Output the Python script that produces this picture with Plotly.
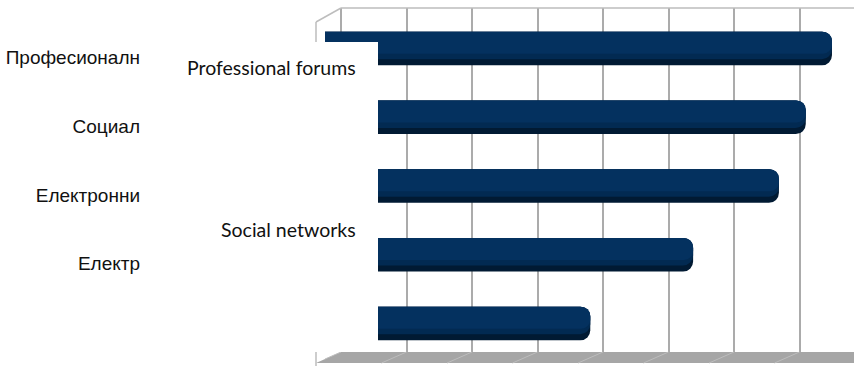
import plotly.graph_objects as go

# ---- data ----
categories = ["Професионални форуми", "Социални мрежи", "Електронни издания",
              "Електронна поща", "Блогове"]
tick_labels = ["Професионалн", "Социал", "Електронни", "Електр", ""]
values = [77.4, 73.4, 69.3, 56.2, 40.5]
grid_ticks = [0, 10, 20, 30, 40, 50, 60, 70]
overlay_labels = ["Professional forums", "Social networks"]

W, H = 854, 366


def px(x):
    return x / W


def py(y):
    return 1 - y / H


UNIT = 6.55          # pixels per value unit
X0_BAR = 325         # pixel of value 0 on the bar plane
X_END = 852
WALL_SHIFT = 16 / UNIT

fig = go.Figure()

bar_layers = [
    # (offset, width, color, corner radius)
    (-0.245, 0.49, "#011a33", 10),
    (-0.245, 0.40, "#022a52", 10),
    (-0.245, 0.32, "#04315f", 9),
]
for off, wd, col, cr in bar_layers:
    fig.add_trace(go.Bar(
        x=values, y=categories, orientation="h",
        offset=off, width=wd,
        marker=dict(color=col, line=dict(width=0), cornerradius=cr),
        xaxis="x", yaxis="y", showlegend=False, hoverinfo="skip"))

# invisible trace to carry the back-wall grid axis
fig.add_trace(go.Scatter(x=[None], y=[None], xaxis="x2", yaxis="y",
                         showlegend=False, hoverinfo="skip"))

shapes = []
# floor
fl = [(316, 363), (341, 352), (880, 352), (855, 363)]
path = "M " + " L ".join(f"{px(a):.5f},{py(b):.5f}" for a, b in fl) + " Z"
shapes.append(dict(type="path", path=path, xref="paper", yref="paper",
                   fillcolor="#a6a6a6", line=dict(width=0), layer="below"))
# floor grid diagonals
for t in grid_ticks:
    shapes.append(dict(type="line", xref="x2", xsizemode="pixel", xanchor=t,
                       x0=0, x1=-25, yref="paper", y0=py(352), y1=py(363),
                       line=dict(color="#bdbdbd", width=1)))
# back wall top line and left wall edges
shapes.append(dict(type="line", xref="paper", yref="paper",
                   x0=px(341), x1=1.02, y0=py(8), y1=py(8),
                   line=dict(color="#bdbdbd", width=1.5)))
shapes.append(dict(type="line", xref="paper", yref="paper",
                   x0=px(316), x1=px(341), y0=py(22), y1=py(8),
                   line=dict(color="#bdbdbd", width=1.5)))
shapes.append(dict(type="line", xref="paper", yref="paper",
                   x0=px(316), x1=px(316), y0=py(22), y1=py(366),
                   line=dict(color="#bdbdbd", width=1.5)))
# white cover box
shapes.append(dict(type="rect", xref="paper", yref="paper",
                   x0=px(140), x1=px(378), y0=py(352), y1=py(42),
                   fillcolor="white", line=dict(width=0), layer="above"))

annotations = [
    dict(text=overlay_labels[0], x=px(358), y=py(67), xref="paper", yref="paper",
         xanchor="right", yanchor="middle", showarrow=False,
         font=dict(family="Lato", size=19.5, color="#111111")),
    dict(text=overlay_labels[1], x=px(358), y=py(229), xref="paper", yref="paper",
         xanchor="right", yanchor="middle", showarrow=False,
         font=dict(family="Lato", size=19.5, color="#111111")),
]

fig.update_layout(
    width=W, height=H,
    margin=dict(l=0, r=0, t=0, b=0),
    paper_bgcolor="white", plot_bgcolor="rgba(0,0,0,0)",
    barmode="overlay",
    xaxis=dict(domain=[px(X0_BAR), px(X_END)],
               range=[0, (X_END - X0_BAR) / UNIT],
               visible=False, anchor="y"),
    xaxis2=dict(overlaying="x", anchor="y",
                range=[-WALL_SHIFT, (X_END - X0_BAR) / UNIT - WALL_SHIFT],
                tickmode="array", tickvals=grid_ticks,
                showgrid=True, gridcolor="#ababab", gridwidth=2,
                zeroline=True, zerolinecolor="#ababab", zerolinewidth=2,
                showticklabels=False, ticks="", showline=False),
    yaxis=dict(domain=[1 - 352 / H, 1 - 8 / H], anchor="x",
               type="category", categoryorder="array", categoryarray=categories,
               tickmode="array", tickvals=categories, ticktext=tick_labels,
               range=[4.415, -0.589],
               showgrid=False, zeroline=False, ticks="",
               ticklabelstandoff=184, ticklabelshift=-9,
               tickfont=dict(family="Liberation Sans, Arial", size=19,
                             color="#111111")),
    shapes=shapes,
    annotations=annotations,
)

fig.write_html("out.html")
